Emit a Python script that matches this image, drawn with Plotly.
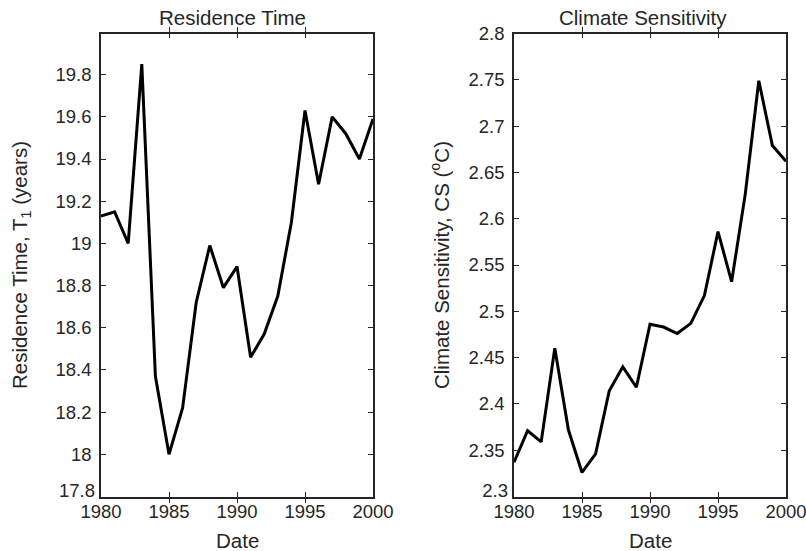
import plotly.graph_objects as go

years = list(range(1980, 2001))
residence_time = [19.13, 19.15, 19.00, 19.85, 18.37, 18.00, 18.22, 18.72, 18.99, 18.79,
                  18.89, 18.46, 18.57, 18.75, 19.10, 19.63, 19.28, 19.60, 19.52, 19.40, 19.59]
climate_sens = [2.337, 2.371, 2.359, 2.460, 2.372, 2.326, 2.346, 2.414, 2.440, 2.418,
                2.486, 2.483, 2.476, 2.487, 2.517, 2.586, 2.532, 2.626, 2.749, 2.679, 2.662]

x_ticks = [1980, 1985, 1990, 1995, 2000]
y1_ticks = [17.8, 18.0, 18.2, 18.4, 18.6, 18.8, 19.0, 19.2, 19.4, 19.6, 19.8]
y1_labels = ["17.8", "18", "18.2", "18.4", "18.6", "18.8", "19", "19.2", "19.4", "19.6", "19.8"]
y2_ticks = [2.3, 2.35, 2.4, 2.45, 2.5, 2.55, 2.6, 2.65, 2.7, 2.75, 2.8]
y2_labels = ["2.3", "2.35", "2.4", "2.45", "2.5", "2.55", "2.6", "2.65", "2.7", "2.75", "2.8"]
y1_range = [17.8, 19.995]
y2_range = [2.3, 2.8]

W, H = 806, 551
FONT = "Liberation Sans, Arial, Helvetica, sans-serif"
AX = "#262626"

fig = go.Figure()
fig.add_trace(go.Scatter(x=years, y=residence_time, mode="lines",
                         line=dict(color="black", width=3), xaxis="x", yaxis="y",
                         showlegend=False))
fig.add_trace(go.Scatter(x=years, y=climate_sens, mode="lines",
                         line=dict(color="black", width=3), xaxis="x2", yaxis="y2",
                         showlegend=False))

left = (101 / W, 373 / W)
right = (514 / W, 786 / W)
ydom = ((H - 496.5) / H, (H - 33.5) / H)

tick_font = dict(family=FONT, size=18.5, color=AX)
common_x = dict(range=[1980, 2000], tickvals=x_ticks, ticks="inside", ticklen=5,
                tickcolor=AX, tickwidth=1, showline=True, linecolor=AX, linewidth=1.5,
                mirror="allticks", showgrid=False, zeroline=False, automargin=False,
                ticklabeloverflow="allow", tickfont=tick_font, ticklabelstandoff=-2)
common_y = dict(ticks="inside", ticklen=5, tickcolor=AX, tickwidth=1, showline=True,
                linecolor=AX, linewidth=1.5, mirror="allticks", showgrid=False,
                zeroline=False, automargin=False, ticklabeloverflow="allow",
                tickfont=tick_font, ticklabelstandoff=4, tickmode="array")
# overlay axes carrying only the lowest label, nudged up as in the reference
bottom_y = dict(ticks="", showline=False, showgrid=False, zeroline=False,
                automargin=False, ticklabeloverflow="allow", tickfont=tick_font,
                ticklabelstandoff=5, ticklabelshift=-6, tickmode="array", side="left")

fig.update_layout(
    template="none",
    width=W, height=H,
    margin=dict(l=0, r=0, t=0, b=0, pad=0),
    paper_bgcolor="white", plot_bgcolor="white",
    xaxis=dict(domain=list(left), anchor="y", **common_x),
    yaxis=dict(domain=list(ydom), anchor="x", range=y1_range,
               tickvals=y1_ticks, ticktext=[""] + y1_labels[1:], **common_y),
    xaxis2=dict(domain=list(right), anchor="y2", **common_x),
    yaxis2=dict(domain=list(ydom), anchor="x2", range=y2_range,
                tickvals=y2_ticks, ticktext=[""] + y2_labels[1:], **common_y),
    yaxis3=dict(overlaying="y", anchor="x", range=y1_range,
                tickvals=y1_ticks[:1], ticktext=y1_labels[:1], **bottom_y),
    yaxis4=dict(overlaying="y2", anchor="x2", range=y2_range,
                tickvals=y2_ticks[:1], ticktext=y2_labels[:1], **bottom_y),
)
# empty traces so the overlay axes are drawn
fig.add_trace(go.Scatter(x=[], y=[], xaxis="x", yaxis="y3", showlegend=False))
fig.add_trace(go.Scatter(x=[], y=[], xaxis="x2", yaxis="y4", showlegend=False))

tf = dict(family=FONT, size=20.5, color=AX)
ann = [
    dict(text="Residence Time", x=232 / W, y=(H - 17) / H),
    dict(text="Climate Sensitivity", x=643 / W, y=(H - 17) / H),
    dict(text="Date", x=237 / W, y=(H - 540) / H),
    dict(text="Date", x=650 / W, y=(H - 540) / H),
    dict(text="Residence Time, T<sub>1</sub> (years)", x=21 / W, y=(H - 265) / H, textangle=-90),
    dict(text="Climate Sensitivity, CS (<sup>o</sup>C)", x=440 / W, y=(H - 265) / H, textangle=-90),
]
for a in ann:
    fig.add_annotation(xref="paper", yref="paper", showarrow=False,
                       xanchor="center", yanchor="middle", font=tf, **a)

fig.write_html("out.html")
